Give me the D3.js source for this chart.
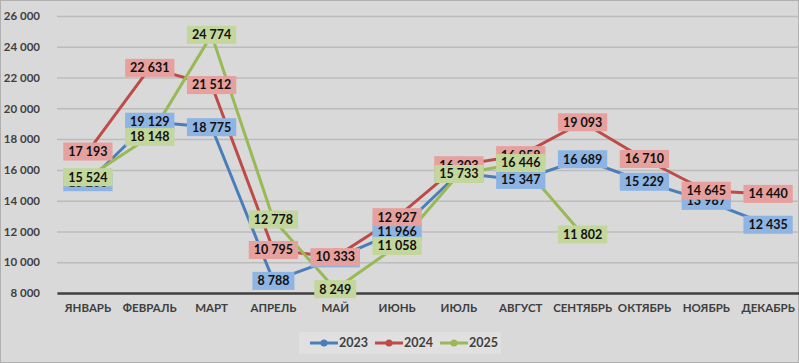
<!DOCTYPE html>
<html>
<head>
<meta charset="utf-8">
<script src="https://cdnjs.cloudflare.com/ajax/libs/d3/7.8.5/d3.min.js"></script>
<style>
  body { margin: 0; background: #fff; }
  text { font-family: Lato, "Open Sans", sans-serif; }
</style>
</head>
<body>
<div id="chart"></div>
<script>

// months on the x axis
var months = ["ЯНВАРЬ", "ФЕВРАЛЬ", "МАРТ", "АПРЕЛЬ", "МАЙ", "ИЮНЬ",
              "ИЮЛЬ", "АВГУСТ", "СЕНТЯБРЬ", "ОКТЯБРЬ", "НОЯБРЬ", "ДЕКАБРЬ"];

var years = ["2023", "2024", "2025"];

var values2023 = [15200, 19129, 18775, 8788, 10250, 11966, 15800, 15347, 16689, 15229, 13987, 12435];
var values2024 = [17193, 22631, 21512, 10795, 10333, 12927, 16303, 16958, 19093, 16710, 14645, 14440];
var values2025 = [15524, 18148, 24774, 12778, 8249, 11058, 15733, 16446, 11802];

var yTicks = [8000, 10000, 12000, 14000, 16000, 18000, 20000, 22000, 24000, 26000];

var lineColors = ["#4a7ebb", "#be4b48", "#98b954"];
var boxColors = ["#8db4e2", "#e6a09e", "#c3d69b"];

var width = 799;
var height = 363;

var margin = {
    top: 16,
    bottom: 70,
    left: 57,
    right: 0
};

var fmt = d3.formatLocale({ decimal: ",", thousands: " ", grouping: [3] }).format(",d");

var svg = d3.select("#chart")
    .append("svg")
    .attr("width", width)
    .attr("height", height);

// chart background
svg.append("rect")
    .attr("x", 0.5)
    .attr("y", 0.5)
    .attr("width", width - 1)
    .attr("height", height - 1)
    .attr("fill", "#d9d9d9")
    .attr("stroke", "#b0b0b0");

var plotW = width - margin.left - margin.right;
var plotH = 293 - margin.top;

var g = svg.append("g")
    .attr("transform", "translate(" + margin.left + "," + margin.top + ")");

var x_scale = d3.scaleBand()
    .domain(months)
    .range([0, plotW]);

var y_scale = d3.scaleLinear()
    .domain([8000, 26000])
    .range([plotH, 0]);

function cx(i) {
    return x_scale(months[i]) + x_scale.bandwidth() / 2;
}

// gridlines + y labels
var y_axis = d3.axisLeft(y_scale)
    .tickValues(yTicks)
    .tickSize(-plotW)
    .tickPadding(17)
    .tickFormat(fmt);

g.append("g")
    .attr("class", "y axis")
    .call(y_axis)
    .call(function(a) {
        a.select(".domain").remove();
        a.selectAll(".tick line")
            .attr("stroke", "#bcbcbc")
            .attr("stroke-width", 1.5);
        a.selectAll(".tick text")
            .attr("fill", "#404040")
            .attr("font-size", 11.5)
            .attr("font-weight", "bold");
    });

// x axis
var x_axis = d3.axisBottom(x_scale)
    .tickSize(0)
    .tickPadding(11);

g.append("g")
    .attr("class", "x axis")
    .attr("transform", "translate(0," + plotH + ")")
    .call(x_axis)
    .call(function(a) {
        a.select(".domain")
            .attr("stroke", "#404040")
            .attr("stroke-width", 2.5);
        a.selectAll(".tick text")
            .attr("fill", "#404040")
            .attr("font-size", 11.5)
            .attr("font-weight", "bold");
    });

var series = [values2023, values2024, values2025];

var valueline = d3.line()
    .x(function(d, i) { return cx(i); })
    .y(function(d) { return y_scale(d); });

series.forEach(function(vals, s) {
    g.append("path")
        .datum(vals)
        .attr("fill", "none")
        .attr("stroke", lineColors[s])
        .attr("stroke-width", 3)
        .attr("stroke-linejoin", "round")
        .attr("d", valueline);

    g.selectAll(".m" + s)
        .data(vals)
        .enter()
        .append("circle")
        .attr("cx", function(d, i) { return cx(i); })
        .attr("cy", function(d) { return y_scale(d); })
        .attr("r", 8.5)
        .attr("fill", lineColors[s]);
});

// data labels, on top of everything
series.forEach(function(vals, s) {
    var lab = g.selectAll(".lab" + s)
        .data(vals)
        .enter()
        .append("g")
        .attr("transform", function(d, i) {
            return "translate(" + cx(i) + "," + y_scale(d) + ")";
        });

    lab.append("rect")
        .attr("fill", boxColors[s]);

    lab.append("text")
        .attr("text-anchor", "middle")
        .attr("dy", "0.35em")
        .attr("font-size", 12.5)
        .attr("font-weight", "bold")
        .attr("fill", "#111")
        .text(function(d) { return fmt(d); });

    lab.each(function() {
        var w = d3.select(this).select("text").node().getComputedTextLength();
        d3.select(this).select("rect")
            .attr("x", -w / 2 - 5)
            .attr("y", -9)
            .attr("width", w + 10)
            .attr("height", 18);
    });
});

// legend
var legend = svg.append("g")
    .attr("transform", "translate(299,332)");

legend.append("rect")
    .attr("width", 202)
    .attr("height", 22)
    .attr("fill", "#e0e0e0");

years.forEach(function(yr, i) {
    var lx = 11 + i * 65;
    legend.append("line")
        .attr("x1", lx)
        .attr("x2", lx + 28)
        .attr("y1", 11)
        .attr("y2", 11)
        .attr("stroke", lineColors[i])
        .attr("stroke-width", 3);
    legend.append("circle")
        .attr("cx", lx + 14)
        .attr("cy", 11)
        .attr("r", 3.5)
        .attr("fill", lineColors[i]);
    legend.append("text")
        .attr("x", lx + 29)
        .attr("y", 11)
        .attr("dy", "0.35em")
        .attr("font-size", 12.5)
        .attr("font-weight", "bold")
        .attr("fill", "#404040")
        .text(yr);
});

</script>
</body>
</html>
